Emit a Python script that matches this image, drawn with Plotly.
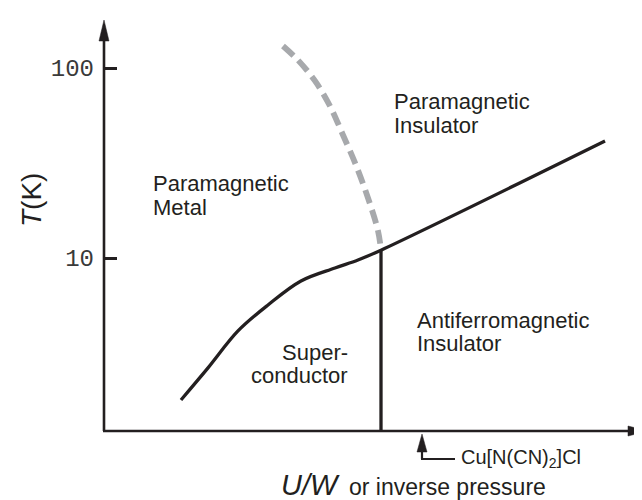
import plotly.graph_objects as go

# ---- data (U/W in arbitrary units, T in K) ----
boundary_x = [1.415, 1.912, 2.463, 3.015, 3.621, 4.246, 4.669, 5.092, 9.210]
boundary_T = [1.79, 2.64, 4.13, 5.66, 7.57, 8.86, 9.76, 11.0, 41.3]

afm_x = [5.092, 5.092]
afm_T = [11.0, 1.23]

crossover_x = [3.290, 3.566, 3.879, 4.154, 4.393, 4.632, 4.853, 5.037, 5.092]
crossover_T = [130.6, 110.0, 85.5, 63.1, 44.4, 30.8, 20.7, 13.9, 11.0]

tick_vals = [10, 100]
tick_text = ["10", "100"]

# ---- layout geometry (pixels) ----
W, H = 642, 500
L, R, T, B = 96, 640, 12, 423   # plot area edges


def px(x):
    return (x - L) / (R - L)


def py(y):
    return (B - y) / (B - T)


INK = "#231f20"
FONT = "Liberation Sans, Arial, sans-serif"

fig = go.Figure()
fig.add_trace(go.Scatter(x=boundary_x, y=boundary_T, mode="lines",
                         line=dict(color=INK, width=3.3, shape="spline", smoothing=1.0),
                         hoverinfo="skip", showlegend=False))
fig.add_trace(go.Scatter(x=afm_x, y=afm_T, mode="lines",
                         line=dict(color=INK, width=3.3),
                         hoverinfo="skip", showlegend=False))
fig.add_trace(go.Scatter(x=crossover_x, y=crossover_T, mode="lines",
                         line=dict(color="#a7a9ac", width=5.8, dash="14px,7px",
                                   shape="spline", smoothing=1.0),
                         hoverinfo="skip", showlegend=False))

shapes = [
    # y axis line + arrowhead
    dict(type="line", xref="paper", yref="paper", x0=px(96), y0=py(423), x1=px(96), y1=py(31),
         line=dict(color=INK, width=2.6)),
    dict(type="path", xref="paper", yref="paper",
         path=f"M{px(96)},{py(12)} L{px(91)},{py(33)} L{px(101)},{py(33)} Z",
         fillcolor=INK, line=dict(color=INK, width=0.5)),
    # x axis line + arrowhead
    dict(type="line", xref="paper", yref="paper", x0=px(95), y0=py(423), x1=px(622), y1=py(423),
         line=dict(color=INK, width=2.6)),
    dict(type="path", xref="paper", yref="paper",
         path=f"M{px(640)},{py(423)} L{px(620)},{py(418)} L{px(620)},{py(428)} Z",
         fillcolor=INK, line=dict(color=INK, width=0.5)),
    # Cu[N(CN)2]Cl pointer
    dict(type="line", xref="paper", yref="paper", x0=px(414), y0=py(442), x1=px(414), y1=py(451),
         line=dict(color=INK, width=2.2)),
    dict(type="line", xref="paper", yref="paper", x0=px(413), y0=py(451), x1=px(447), y1=py(451),
         line=dict(color=INK, width=2.2)),
    dict(type="path", xref="paper", yref="paper",
         path=f"M{px(414)},{py(426)} L{px(409)},{py(444)} L{px(419)},{py(444)} Z",
         fillcolor=INK, line=dict(color=INK, width=0.5)),
]

lab = dict(family=FONT, size=22, color=INK)
label_lines = [
    # (text, x, y, anchor)
    ("Paramagnetic", 143, 176, "left"), ("Metal", 143, 199, "left"),
    ("Paramagnetic", 384, 94, "left"), ("Insulator", 384, 117, "left"),
    ("Antiferromagnetic", 407, 312, "left"), ("Insulator", 407, 335, "left"),
    ("Super-", 342, 344, "right"), ("conductor", 342, 367, "right"),
]
annotations = [dict(x=px(x), y=py(y), text=t, xanchor=a, yanchor="middle",
                    xref="paper", yref="paper", showarrow=False, font=lab)
               for t, x, y, a in label_lines]
annotations += [
    dict(x=px(451), y=py(451), xref="paper", yref="paper", showarrow=False,
         xanchor="left", yanchor="middle",
         text="Cu[N(CN)<sub>2</sub>]Cl", font=dict(family=FONT, size=20, color=INK)),
    dict(x=px(334), y=py(477), xref="paper", yref="paper", showarrow=False,
         xanchor="right", yanchor="middle",
         text="<i>U/W</i>", font=dict(family=FONT, size=29, color=INK)),
    dict(x=px(339), y=py(479), xref="paper", yref="paper", showarrow=False,
         xanchor="left", yanchor="middle",
         text="or inverse pressure", font=dict(family=FONT, size=23, color=INK)),
    dict(x=px(23), y=py(192), xref="paper", yref="paper", showarrow=False,
         xanchor="center", yanchor="middle", textangle=-90,
         text="<i>T</i>(K)", font=dict(family=FONT, size=28, color=INK)),
]

fig.update_layout(
    width=W, height=H,
    margin=dict(l=L, r=W - R, t=T, b=H - B, pad=0),
    paper_bgcolor="white", plot_bgcolor="white",
    shapes=shapes, annotations=annotations,
    xaxis=dict(range=[0, 10], showgrid=False, zeroline=False, showline=False,
               showticklabels=False, ticks=""),
    yaxis=dict(type="log", range=[1 - (B - 250) / 190, 1 + (250 - T) / 190],
               showgrid=False, zeroline=False, showline=False,
               tickvals=tick_vals, ticktext=tick_text,
               ticks="inside", ticklen=13, tickwidth=2.6, tickcolor=INK,
               ticklabelstandoff=9,
               tickfont=dict(family="Liberation Mono, monospace", size=24, color="#3a3a3a")),
)

fig.write_html("out.html")
